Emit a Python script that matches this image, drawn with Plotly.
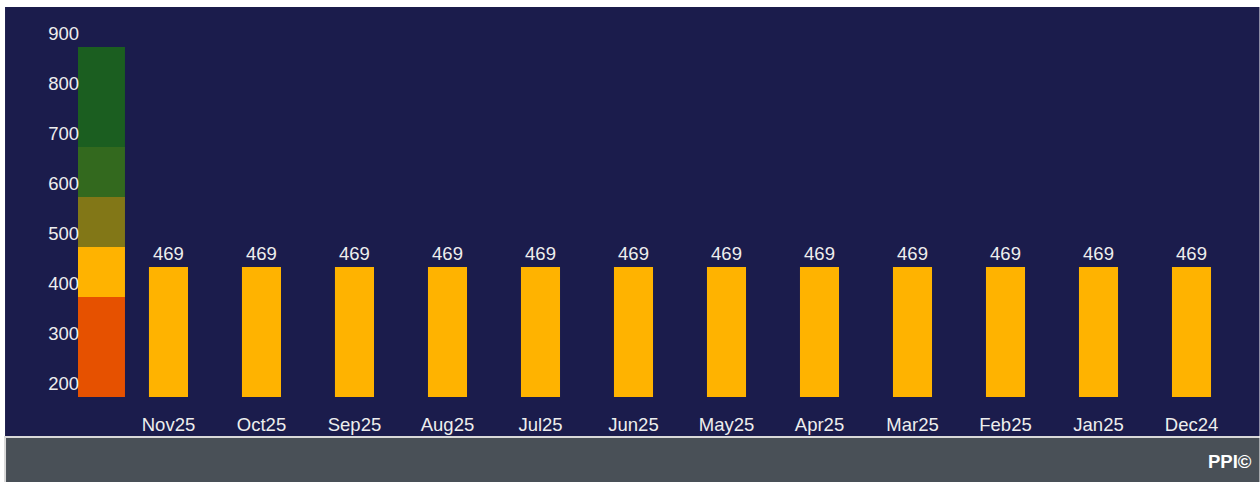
import plotly.graph_objects as go

# ---- data ----
months = ["Nov25", "Oct25", "Sep25", "Aug25", "Jul25", "Jun25",
          "May25", "Apr25", "Mar25", "Feb25", "Jan25", "Dec24"]
values = [469, 469, 469, 469, 469, 469, 469, 469, 469, 469, 469, 469]
band_edges = [200, 400, 500, 600, 700, 900]
band_colors = ["#E65100", "#FFB300", "#827717", "#33691E", "#1B5E20"]
y_ticks = [200, 300, 400, 500, 600, 700, 800, 900]

W, H = 1260, 482
ML, MR, MT, MB = 78, 21.5, 47, 85
PW = W - ML - MR
PH = H - MT - MB

def px_x(p):
    return (p - ML) / PW

def px_y(p):
    return (H - MB - p) / PH

NAVY = "#1B1C4C"
TXT = "#EEEEEE"
FONT = "Liberation Sans, Arial, sans-serif"
FS = 18.5

fig = go.Figure()

for i, col in enumerate(band_colors):
    fig.add_trace(go.Bar(
        x=["band"], y=[band_edges[i + 1] - band_edges[i]], base=[band_edges[i]],
        marker=dict(color=col, line=dict(width=0)), width=1,
        xaxis="x", yaxis="y", hoverinfo="skip", showlegend=False))

fig.add_trace(go.Bar(
    x=months, y=values, marker=dict(color="#FFB300", line=dict(width=0)),
    width=0.42, text=[str(v) for v in values], textposition="outside",
    textfont=dict(color=TXT, size=FS, family=FONT), cliponaxis=False,
    xaxis="x2", yaxis="y2", showlegend=False))

fig.update_layout(
    width=W, height=H,
    margin=dict(l=ML, r=MR, t=MT, b=MB),
    paper_bgcolor="white", plot_bgcolor="rgba(0,0,0,0)",
    font=dict(family=FONT, size=FS, color=TXT),
    barmode="overlay",
    xaxis=dict(domain=[0, px_x(125)], range=[-0.5, 0.5], visible=False,
               fixedrange=True),
    xaxis2=dict(domain=[px_x(122), 1], range=[-0.5, len(months) - 0.5],
                anchor="y", showgrid=False, showline=False, zeroline=False,
                ticks="", ticklabelstandoff=14,
                tickfont=dict(color=TXT, size=FS, family=FONT)),
    yaxis=dict(range=[200, 900], tickvals=y_ticks, showgrid=False,
               zeroline=False, showline=False, ticks="",
               ticklabelshift=-13, ticklabelstandoff=-2,
               tickfont=dict(color=TXT, size=FS, family=FONT), anchor="x"),
    yaxis2=dict(range=[200, 924.2], overlaying="y", visible=False,
                anchor="x2"),
    shapes=[
        dict(type="rect", xref="paper", yref="paper", layer="below",
             x0=px_x(5), x1=px_x(1260), y0=px_y(436), y1=px_y(7),
             fillcolor=NAVY, line=dict(width=0)),
        dict(type="rect", xref="paper", yref="paper", layer="below",
             x0=px_x(4), x1=px_x(1260), y0=px_y(438), y1=px_y(436),
             fillcolor="#D9D9D9", line=dict(width=0)),
        dict(type="rect", xref="paper", yref="paper", layer="below",
             x0=px_x(4), x1=px_x(6), y0=px_y(482), y1=px_y(436),
             fillcolor="#D9D9D9", line=dict(width=0)),
        dict(type="rect", xref="paper", yref="paper", layer="below",
             x0=px_x(6), x1=px_x(1260), y0=px_y(482), y1=px_y(438),
             fillcolor="#495057", line=dict(width=0)),
    ],
    annotations=[
        dict(text="<b>PPI©</b>", xref="paper", yref="paper",
             x=px_x(1255), y=px_y(461), xanchor="right", yanchor="middle",
             showarrow=False, font=dict(color="white", size=FS, family=FONT)),
    ],
)

fig.write_html("out.html", config={"displayModeBar": False})
